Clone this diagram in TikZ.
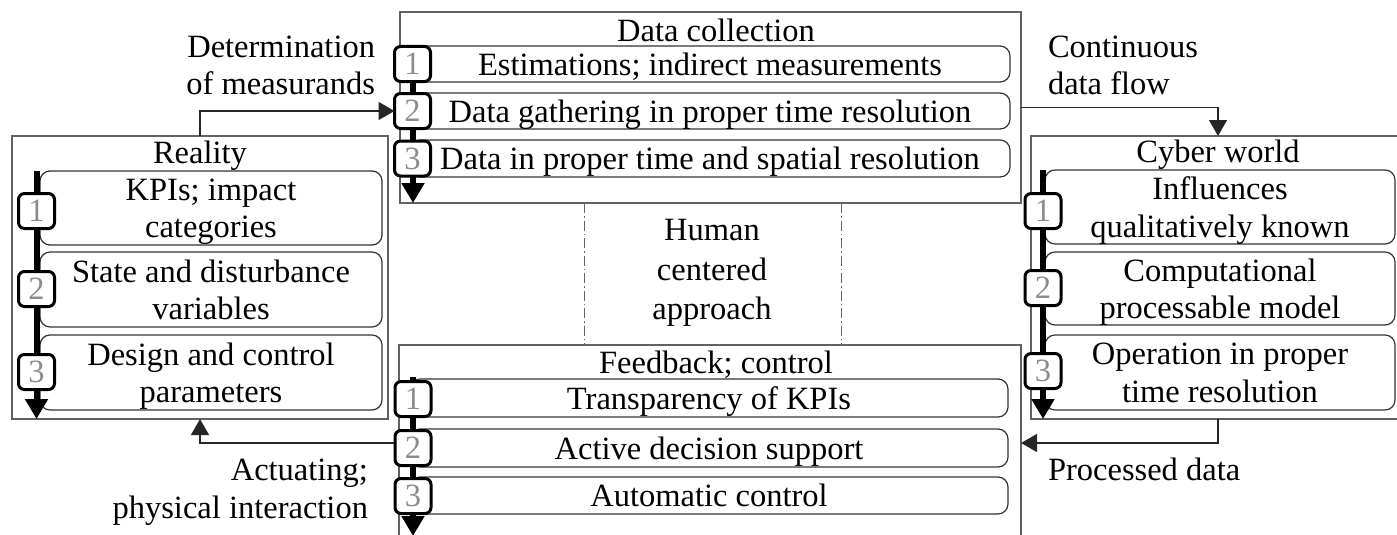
\documentclass[tikz,border=0pt]{standalone}
\usepackage{fontspec}
\setmainfont{Liberation Serif}
\usetikzlibrary{arrows.meta}
\newcommand\bodyfs{\fontsize{32.5pt}{37.5pt}\selectfont}

\begin{document}
\begin{tikzpicture}[x=1pt,y=-1pt,
  every node/.style={font=\bodyfs, inner sep=0pt, outer sep=0pt},
  panel/.style={draw=black!62, line width=1.4pt, anchor=north west},
  item/.style={draw=black!80, line width=1.2pt, rounded corners=10pt, fill=white,
               anchor=north west, align=center, text depth=0pt},
  numbox/.style={draw=black, line width=3pt, rounded corners=6pt, fill=white,
                 minimum width=36pt, minimum height=35pt, text=black!45},
  spine/.style={line width=6pt, -{Triangle[length=20pt,width=22pt]}},
  link/.style={draw=black!85, line width=1.3pt, -{Triangle[length=16pt,width=18pt]}},
  sep/.style={draw=black!60, line width=0.9pt, dash pattern=on 10pt off 3pt on 1.5pt off 3pt}
]
\useasboundingbox (0,0) rectangle (1397,535);

% ---- Reality ----
\node[panel, minimum width=376pt, minimum height=283pt] (reality) at (12,136) {};
\node[anchor=base] (realityT) at (200,163) {Reality};
\node[item, minimum width=342pt, minimum height=74pt] (r1) at (40,171) {KPIs; impact\\categories};
\node[item, minimum width=342pt, minimum height=75pt] (r2) at (40,252) {State and disturbance\\variables};
\node[item, minimum width=342pt, minimum height=75pt] (r3) at (40,335) {Design and control\\parameters};
\draw[spine] (36.5,171) -- (36.5,419);
\node[numbox] (rn1) at (36.5,211) {1};
\node[numbox] (rn2) at (36.5,289) {2};
\node[numbox] (rn3) at (36.5,372) {3};

% ---- Data collection ----
\node[panel, minimum width=621pt, minimum height=191pt] (dc) at (400,12) {};
\node[anchor=base] (dcT) at (716,42) {Data collection};
\node[item, minimum width=600pt, minimum height=36pt] (d1) at (410,46) {Estimations; indirect measurements};
\node[item, minimum width=600pt, minimum height=36pt] (d2) at (410,93) {Data gathering in proper time resolution};
\node[item, minimum width=600pt, minimum height=37pt] (d3) at (410,140) {Data in proper time and spatial resolution};
\draw[spine] (413,46) -- (413,203);
\node[numbox] (dn1) at (412.5,64) {1};
\node[numbox] (dn2) at (412.5,111) {2};
\node[numbox] (dn3) at (412.5,158.5) {3};

% ---- Cyber world ----
\node[panel, minimum width=374pt, minimum height=283pt] (cyber) at (1031,136) {};
\node[anchor=base] (cyberT) at (1218,162) {Cyber world};
\node[item, minimum width=350pt, minimum height=74pt] (c1) at (1045,170) {Influences\\qualitatively known};
\node[item, minimum width=350pt, minimum height=73pt] (c2) at (1045,252) {Computational\\processable model};
\node[item, minimum width=350pt, minimum height=75pt] (c3) at (1045,335) {Operation in proper\\time resolution};
\draw[spine] (1043,170) -- (1043,419);
\node[numbox] (cn1) at (1043,211) {1};
\node[numbox] (cn2) at (1043,288) {2};
\node[numbox] (cn3) at (1043,371) {3};

% ---- Feedback; control ----
\node[panel, minimum width=622pt, minimum height=220pt] (fb) at (399,345) {};
\node[anchor=base] (fbT) at (716,373) {Feedback; control};
\node[item, minimum width=598pt, minimum height=38pt] (f1) at (410,379) {Transparency of KPIs};
\node[item, minimum width=598pt, minimum height=38pt] (f2) at (410,429) {Active decision support};
\node[item, minimum width=598pt, minimum height=37pt] (f3) at (410,477) {Automatic control};
\draw[spine] (413,377) -- (413,536);
\node[numbox] (fn1) at (413,399) {1};
\node[numbox] (fn2) at (413,448) {2};
\node[numbox] (fn3) at (413,496) {3};

% ---- centre ----
\draw[sep] (584,203) -- (584,345);
\draw[sep] (841,203) -- (841,345);
\node[align=center, font={\fontsize{32.5pt}{39.5pt}\selectfont}] (human) at (712,273) {Human\\centered\\approach};

% ---- connector labels (base = last line) ----
\node[anchor=base east, align=right] (detlbl) at (375,95) {Determination\\of measurands};
\node[anchor=base west, align=left] (cdflbl) at (1048,95) {Continuous\\data flow};
\node[anchor=base east, align=right] (actlbl) at (368,518) {Actuating;\\physical interaction};
\node[anchor=base west] (pdlbl) at (1048,480) {Processed data};

% ---- connectors ----
\coordinate (fbin) at (1021,443);
\coordinate (fbout) at (393.5,443);
\draw[link] (reality.north) |- (dn2.west);
\draw[link] (dc.east) -| (cyber.north);
\draw[link] (cyber.south) |- (fbin);
\draw[link] (fbout) -| (reality.south);
\end{tikzpicture}
\end{document}
